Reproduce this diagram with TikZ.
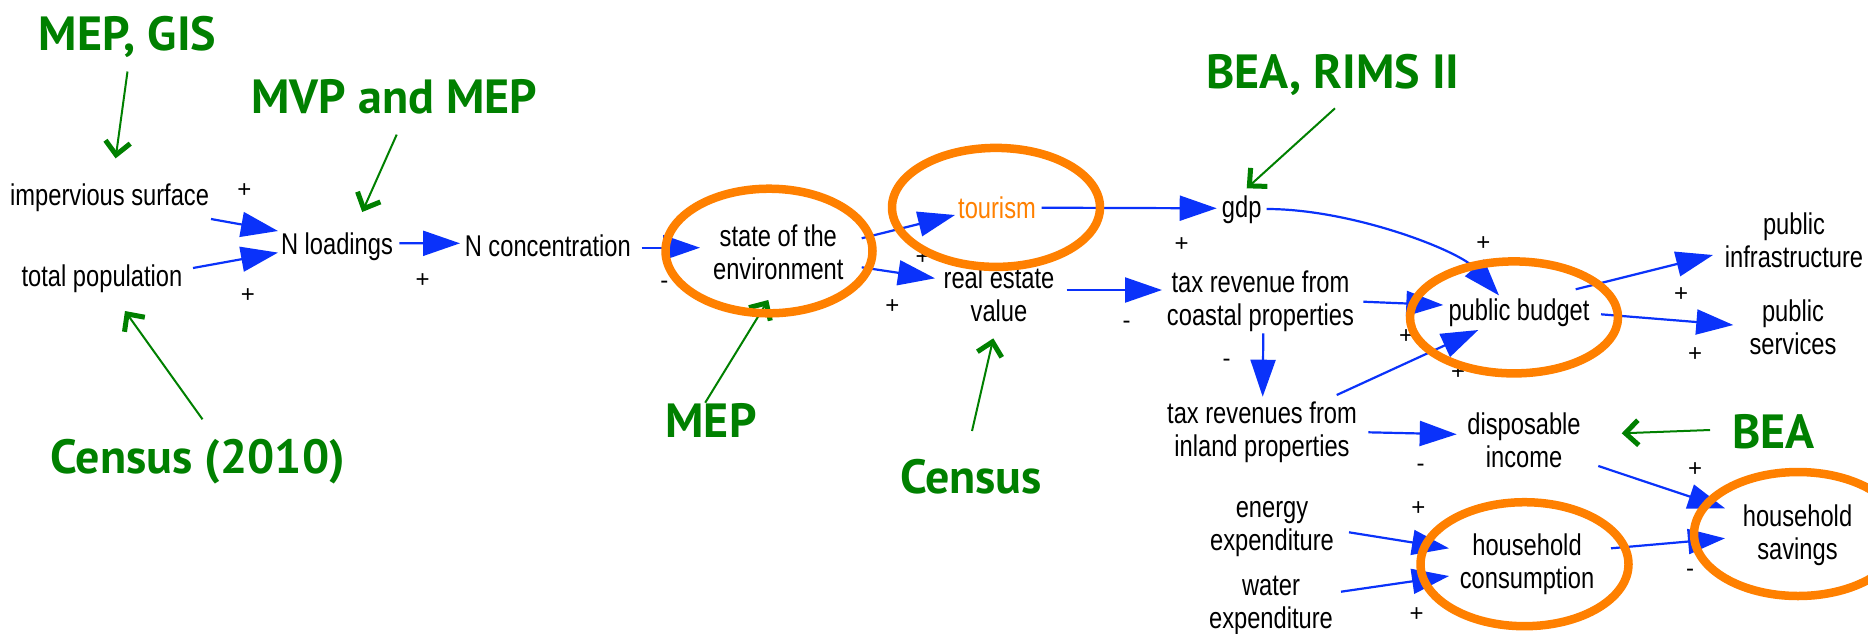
\documentclass[tikz,border=0pt]{standalone}
\usepackage{fontspec}
\setmainfont{Liberation Sans}
\newfontfamily\lblfont[FakeStretch=0.79]{Liberation Sans}
\newfontfamily\srcfont{PT Sans}
\usetikzlibrary{arrows.meta}
\definecolor{cldblue}{RGB}{10,50,250}
\definecolor{srcgreen}{RGB}{0,128,0}
\definecolor{hlorange}{RGB}{255,128,0}
\newcommand{\varlbl}[1]{\begin{tabular}{@{}c@{}}#1\end{tabular}}
\begin{document}
\begin{tikzpicture}[x=1pt,y=-1pt,
  lbl/.style={font=\lblfont\fontsize{30}{33}\selectfont, inner sep=0pt},
  src/.style={font=\srcfont\bfseries\fontsize{48}{56}\selectfont, text=srcgreen, inner sep=0pt, anchor=base},
  sgn/.style={font=\fontsize{24}{28}\selectfont, inner sep=0pt},
  ba/.style={draw=cldblue, line width=2.2pt, -{Triangle[length=37pt,width=25pt]}},
  ga/.style={draw=srcgreen, line width=2pt, -{Straight Barb[length=13pt,width=25pt,line width=5pt]}},
  hl/.style={draw=hlorange, line width=8.5pt}]
\useasboundingbox (0,0) rectangle (1868,633);
\fill[white] (0,0) rectangle (1868,633);

% variables
\node[lbl] (imp) at (109.6,198.4) {\varlbl{impervious surface}};
\node[lbl] (pop) at (102,280) {\varlbl{total population}};
\node[lbl] (nload) at (337,247.7) {\varlbl{N loadings}};
\node[lbl] (nconc) at (547.8,249.4) {\varlbl{N concentration}};
\node[lbl] (state) at (778.3,256.4) {\varlbl{state of the\\environment}};
\node[lbl, text=hlorange] (tour) at (997,211.4) {\varlbl{tourism}};
\node[lbl] (gdp) at (1241.7,210.4) {\varlbl{gdp}};
\node[lbl] (rev) at (999,298.4) {\varlbl{real estate\\value}};
\node[lbl] (taxc) at (1260.5,302.6) {\varlbl{tax revenue from\\coastal properties}};
\node[lbl] (budget) at (1519,313.4) {\varlbl{public budget}};
\node[lbl] (infra) at (1794,244.3) {\varlbl{public\\infrastructure}};
\node[lbl] (serv) at (1793,331) {\varlbl{public\\services}};
\node[lbl] (taxi) at (1262,433.4) {\varlbl{tax revenues from\\inland properties}};
\node[lbl] (disp) at (1524,443.9) {\varlbl{disposable\\income}};
\node[lbl] (energy) at (1272,527.6) {\varlbl{energy\\expenditure}};
\node[lbl] (water) at (1271,605.7) {\varlbl{water\\expenditure}};
\node[lbl] (cons) at (1527,565.4) {\varlbl{household\\consumption}};
\node[lbl] (sav) at (1797.5,536.7) {\varlbl{household\\savings}};

% data sources
\node[src] (gMEPGIS) at (127.5,50) {MEP, GIS};
\node[src] (gMVP) at (394.3,113) {MVP and MEP};
\node[src] (gBEARIMS) at (1333,88.3) {BEA, RIMS II};
\node[src] (gCensusTen) at (197.8,473) {Census (2010)};
\node[src] (gMEP) at (711,437) {MEP};
\node[src] (gCensus) at (971,493) {Census};
\node[src] (gBEA) at (1773.4,448.3) {BEA};

% causal links
\draw[ba] ([shift={(101.4,20.6)}]imp.center) -- ([shift={(-59,-16.7)}]nload.center);
\draw[ba] ([shift={(91,-12)}]pop.center) -- ([shift={(-59,4.9)}]nload.center);
\draw[ba] ([shift={(62.3,-4.4)}]nload.center) -- ([shift={(-87.8,-6.1)}]nconc.center);
\draw[ba] ([shift={(93.9,-1.7)}]nconc.center) -- ([shift={(-78.3,-8.7)}]state.center);
\draw[ba] ([shift={(83.4,-18.1)}]state.center) -- ([shift={(-42,3.6)}]tour.center);
\draw[ba] ([shift={(83.4,10.9)}]state.center) -- ([shift={(-64,-20.1)}]rev.center);
\draw[ba] ([shift={(44.7,-3.7)}]tour.center) -- ([shift={(-25,-2.1)}]gdp.center);
\draw[ba] ([shift={(25,-1.4)}]gdp.center) .. controls +(85,0) and +(-40,-45) .. ([shift={(-20,-18)}]budget.center);
\draw[ba] ([shift={(67.7,-8.4)}]rev.center) -- ([shift={(-98.5,-12.6)}]taxc.center);
\draw[ba] ([shift={(102.8,-0.9)}]taxc.center) -- ([shift={(-75.7,-8.4)}]budget.center);
\draw[ba] ([shift={(2.8,30.7)}]taxc.center) -- ([shift={(0.7,-36.7)}]taxi.center);
\draw[ba] ([shift={(74.7,-38.4)}]taxi.center) -- ([shift={(-40.7,16.6)}]budget.center);
\draw[ba] ([shift={(56.7,-24.1)}]budget.center) -- ([shift={(-81,10.7)}]infra.center);
\draw[ba] ([shift={(82,0.9)}]budget.center) -- ([shift={(-59.7,-6)}]serv.center);
\draw[ba] ([shift={(106.3,-1.1)}]taxi.center) -- ([shift={(-67.3,-9.6)}]disp.center);
\draw[ba] ([shift={(74.3,22.1)}]disp.center) -- ([shift={(-72.5,-28.4)}]sav.center);
\draw[ba] ([shift={(77,4.7)}]energy.center) -- ([shift={(-78,-17.1)}]cons.center);
\draw[ba] ([shift={(70,-14)}]water.center) -- ([shift={(-78,10.6)}]cons.center);
\draw[ba] ([shift={(84,-17.1)}]cons.center) -- ([shift={(-72.5,1.6)}]sav.center);

% source arrows
\draw[ga] ([shift={(0,21.5)}]gMEPGIS.base) -- ([shift={(6,-40)}]imp.center);
\draw[ga] ([shift={(2.4,21.6)}]gMVP.base) -- ([shift={(25.2,-35.7)}]nload.center);
\draw[ga] ([shift={(2,20)}]gBEARIMS.base) -- ([shift={(5,-22.1)}]gdp.center);
\draw[ga] ([shift={(4.7,-53.7)}]gCensusTen.base) -- ([shift={(23,31)}]pop.center);
\draw[ga] ([shift={(-5.8,-34.3)}]gMEP.base) -- ([shift={(-10,43.6)}]state.center);
\draw[ga] ([shift={(1,-62)}]gCensus.base) -- ([shift={(-5.7,39.9)}]rev.center);
\draw[ga] ([shift={(-63.4,-18.3)}]gBEA.base) -- ([shift={(97.7,-10.6)}]disp.center);

% polarities
\node[sgn] (s1) at (244.5,190.6) {+};
\node[sgn] (s2) at (247.8,295.4) {+};
\node[sgn] (s3) at (422.7,281) {+};
\node[sgn] (s4) at (664.3,285) {-};
\node[sgn] (s5) at (922.7,258) {+};
\node[sgn] (s6) at (892.3,306.7) {+};
\node[sgn] (s7) at (1181.7,245) {+};
\node[sgn] (s8) at (1126.7,325) {-};
\node[sgn] (s9) at (1483.3,243.3) {+};
\node[sgn] (s10) at (1406,336.7) {+};
\node[sgn] (s11) at (1226.7,363.3) {-};
\node[sgn] (s12) at (1458,373) {+};
\node[sgn] (s13) at (1681,295) {+};
\node[sgn] (s14) at (1695.2,355) {+};
\node[sgn] (s15) at (1420.7,468.3) {-};
\node[sgn] (s16) at (1695,470) {+};
\node[sgn] (s17) at (1418.3,508.3) {+};
\node[sgn] (s18) at (1416.7,615) {+};
\node[sgn] (s19) at (1690,573.3) {-};

% highlights
\draw[hl] ([shift={(-9.3,-5.4)}]state.center) ellipse [x radius=103.5, y radius=62.3];
\draw[hl] ([shift={(-1,-4)}]tour.center) ellipse [x radius=104, y radius=59.5];
\draw[hl] ([shift={(-5,4)}]budget.center) ellipse [x radius=104, y radius=56];
\draw[hl] ([shift={(-2.5,-1.2)}]cons.center) ellipse [x radius=104, y radius=62];
\draw[hl] ([shift={(0.5,-2.7)}]sav.center) ellipse [x radius=104, y radius=62];
\end{tikzpicture}
\end{document}
